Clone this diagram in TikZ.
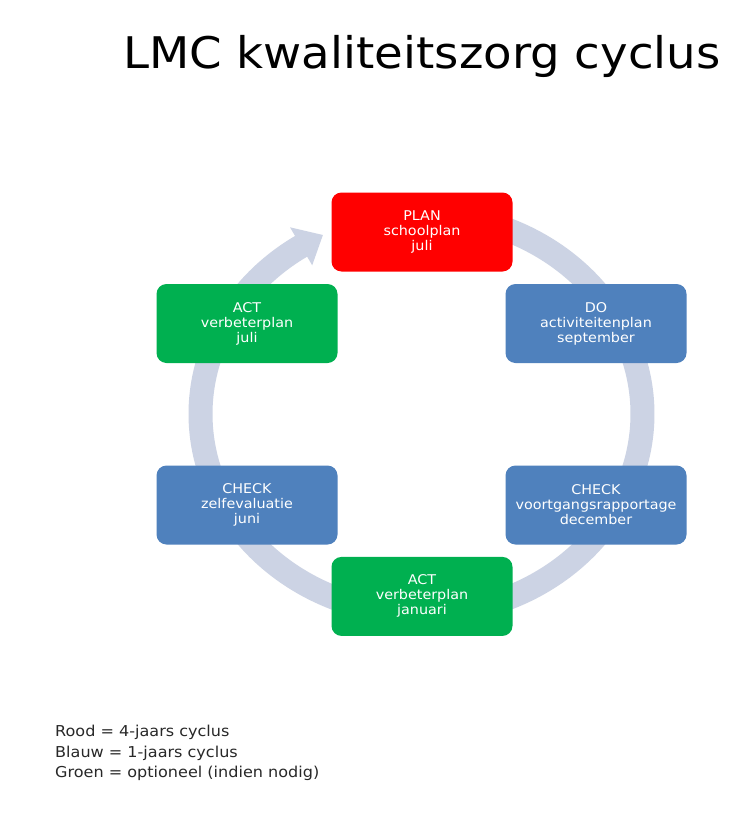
\documentclass[tikz,border=0pt]{standalone}
\usepackage{fontspec}
\setmainfont{DejaVu Sans}[FakeStretch=1.07]
\definecolor{ringc}{RGB}{204,211,228}
\definecolor{planred}{RGB}{255,0,0}
\definecolor{doblue}{RGB}{79,129,189}
\definecolor{actgreen}{RGB}{0,176,80}
\definecolor{legendc}{RGB}{40,40,40}
\begin{document}
\begin{tikzpicture}[x=1pt,y=-1pt,
  stepbox/.style={rounded corners=10pt, minimum width=181pt, minimum height=79pt, inner sep=0pt, text=white, align=center, font=\fontsize{13.4}{15}\selectfont},
  legendtext/.style={anchor=base west, inner sep=0pt, text=legendc, font=\fontsize{15}{20}\selectfont}]
\useasboundingbox[fill=white] (0,0) rectangle (743,816);
% ring with arrow
\draw[ringc, line width=24pt] plot[domain=-80:238, samples=150, smooth] ({421.5+221*cos(\x)},{414+200*sin(\x)});
\coordinate (headA) at (312.2,265.3);
\coordinate (headTip) at (322.9,235);
\coordinate (headB) at (290.0,227.3);
\fill[ringc] (headA) -- (headTip) -- (headB) -- cycle;
% boxes
\node[stepbox, fill=planred] (plan) at (422,232) {PLAN\\schoolplan\\juli};
\node[stepbox, fill=doblue] (do) at (596,323.5) {DO\\activiteitenplan\\september};
\node[stepbox, fill=doblue] (checkr) at (596,505) {CHECK\\voortgangsrapportage\\december};
\node[stepbox, fill=actgreen] (actb) at (422,596.4) {ACT\\verbeterplan\\januari};
\node[stepbox, fill=doblue] (checkl) at (247,505) {CHECK\\zelfevaluatie\\juni};
\node[stepbox, fill=actgreen] (actl) at (247,323.5) {ACT\\verbeterplan\\juli};
% title
\node[anchor=base west, inner sep=0pt, font=\fontsize{43.6}{50}\selectfont] (title) at (123,68.3) {LMC kwaliteitszorg cyclus};
% legend
\node[legendtext] (leg1) at (55,736.7) {Rood = 4-jaars cyclus};
\node[legendtext] (leg2) at (55,757) {Blauw = 1-jaars cyclus};
\node[legendtext] (leg3) at (55,777) {Groen = optioneel (indien nodig)};
\end{tikzpicture}
\end{document}
